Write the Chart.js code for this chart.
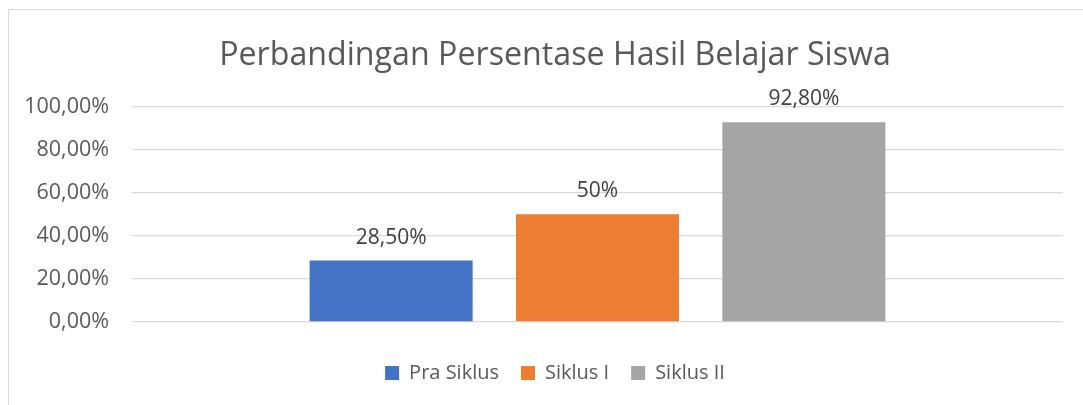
<!DOCTYPE html>
<html>
<head>
<meta charset="utf-8">
<script src="https://cdn.jsdelivr.net/npm/chart.js@4"></script>
<style>
  html, body { margin: 0; padding: 0; background: #ffffff; }
  #wrap { position: relative; width: 1083px; height: 405px; }
  canvas { display: block; }
</style>
</head>
<body>
<div id="wrap"><canvas id="c" width="1083" height="405"></canvas></div>
<script>
const categories = [""];
const seriesNames = ["Pra Siklus", "Siklus I", "Siklus II"];
const seriesValues = [28.5, 50, 92.8];
const valueLabels = ["28,50%", "50%", "92,80%"];
const seriesColors = ["#4472C4", "#ED7D31", "#A5A5A5"];
const titleText = "Perbandingan Persentase Hasil Belajar Siswa";

const FONT = "'Open Sans', 'Noto Sans', sans-serif";

const frame = {
  id: 'frame',
  beforeDraw(chart) {
    const ctx = chart.ctx;
    ctx.save();
    ctx.fillStyle = '#ffffff';
    ctx.fillRect(0, 0, chart.width, chart.height);
    ctx.strokeStyle = '#d9d9d9';
    ctx.lineWidth = 1;
    ctx.strokeRect(8.5, 9.5, chart.width + 20, chart.height + 20);
    ctx.restore();
  }
};

// let the y tick labels extend left of the padded layout box without being clipped
const unclipY = {
  id: 'unclipY',
  afterLayout(chart) {
    if (chart.scales.y) chart.scales.y.left = 0;
  }
};

const dataLabels = {
  id: 'dataLabels',
  afterDatasetsDraw(chart) {
    const ctx = chart.ctx;
    ctx.save();
    ctx.font = "21px " + FONT;
    ctx.fillStyle = '#404040';
    ctx.textAlign = 'center';
    ctx.textBaseline = 'alphabetic';
    chart.data.datasets.forEach((ds, i) => {
      const meta = chart.getDatasetMeta(i);
      meta.data.forEach((el) => {
        ctx.fillText(valueLabels[i], el.x, el.y - 17);
      });
    });
    ctx.restore();
  }
};

new Chart(document.getElementById('c'), {
  type: 'bar',
  data: {
    labels: categories,
    datasets: seriesNames.map((name, i) => ({
      label: name,
      data: [seriesValues[i]],
      backgroundColor: seriesColors[i],
      borderWidth: 0,
      categoryPercentage: 0.665,
      barPercentage: 0.79
    }))
  },
  options: {
    responsive: false,
    animation: false,
    layout: { padding: { left: 47, right: 20, top: 37, bottom: 12 } },
    scales: {
      x: {
        display: true,
        ticks: { display: false },
        grid: { display: false, drawTicks: false },
        border: { display: false },
        afterFit(s) { s.height = 19; }
      },
      y: {
        min: 0, max: 100,
        ticks: {
          stepSize: 20,
          padding: 23,
          color: '#595959',
          font: { family: FONT, size: 21.5 },
          callback: (v) => v.toFixed(2).replace('.', ',') + '%'
        },
        grid: { color: '#d9d9d9', lineWidth: 1.3, drawTicks: false },
        border: { display: false },
        afterFit(s) { s.width = 85; }
      }
    },
    plugins: {
      title: {
        display: true,
        text: titleText,
        color: '#595959',
        font: { family: FONT, size: 32.2, weight: 'normal' },
        padding: { top: 0, bottom: 31 }
      },
      legend: {
        position: 'bottom',
        labels: {
          color: '#595959',
          font: { family: FONT, size: 20 },
          boxWidth: 14,
          boxHeight: 14,
          padding: 22
        }
      },
      tooltip: { enabled: false }
    }
  },
  plugins: [frame, unclipY, dataLabels]
});
</script>
</body>
</html>
